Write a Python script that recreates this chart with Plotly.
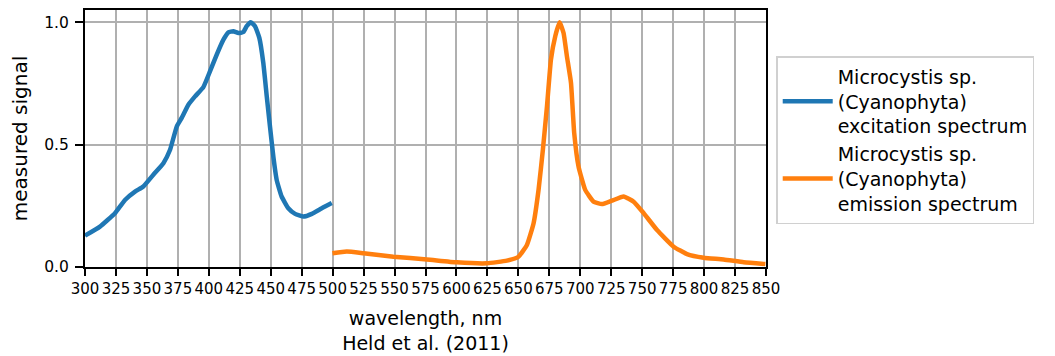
import plotly.graph_objects as go

# Excitation spectrum (nm, normalized signal)
exc_wl = [300, 312.1, 324.2, 332.3, 340.4, 347.1, 355.2, 363.3, 368.7, 374.1, 378.1,
          383.5, 388.9, 395.6, 401, 406.4, 411.8, 415.8, 419.8, 423.9, 427.9, 430.6,
          433.8, 437.3, 440.8, 444, 446.8, 449.4, 452.1, 454.8, 458.8, 464.2, 469.7,
          476.4, 483.2, 491.3, 499.3]
exc_val = [0.128, 0.165, 0.22, 0.274, 0.308, 0.329, 0.377, 0.424, 0.479, 0.574, 0.609,
           0.663, 0.697, 0.735, 0.80, 0.868, 0.929, 0.959, 0.963, 0.956, 0.96, 0.984,
           1.0, 0.984, 0.936, 0.834, 0.697, 0.574, 0.451, 0.356, 0.288, 0.24, 0.217,
           0.206, 0.217, 0.24, 0.261]

# Emission spectrum
emi_wl = [499.8, 511.4, 524.9, 549.1, 576.1, 600.3, 624.6, 640.7, 650.1, 656.9, 662.3,
          666.3, 669.8, 673.1, 676.3, 679.8, 683.3, 686.5, 689.2, 692.5, 695.1, 698.6,
          704, 710.7, 717.5, 725.6, 735, 743.1, 751.2, 762, 775.4, 786.2, 799.6, 815.8,
          832, 849.5]
emi_val = [0.056, 0.063, 0.056, 0.042, 0.031, 0.019, 0.015, 0.026, 0.042, 0.09, 0.179,
           0.315, 0.479, 0.656, 0.847, 0.943, 1.0, 0.956, 0.861, 0.752, 0.547, 0.41,
           0.315, 0.267, 0.257, 0.271, 0.288, 0.267, 0.22, 0.151, 0.083, 0.053, 0.038,
           0.031, 0.019, 0.012]

x_ticks = list(range(300, 851, 25))
y_ticks = [0.0, 0.5, 1.0]
y_tick_labels = ["0.0", "0.5", "1.0"]

exc_name = "Microcystis sp.<br>(Cyanophyta)<br>excitation spectrum"
emi_name = "Microcystis sp.<br>(Cyanophyta)<br>emission spectrum"

FONT = "DejaVu Sans"

fig = go.Figure()
fig.add_trace(go.Scatter(x=exc_wl, y=exc_val, mode="lines", name=exc_name,
                         line=dict(color="#1f77b4", width=4.5, shape="spline", smoothing=0.4)))
fig.add_trace(go.Scatter(x=emi_wl, y=emi_val, mode="lines", name=emi_name,
                         line=dict(color="#ff7f0e", width=4.5, shape="spline", smoothing=0.4)))

fig.update_layout(
    width=1047, height=348,
    margin=dict(l=77, r=289, t=2, b=89),
    paper_bgcolor="white", plot_bgcolor="white",
    font=dict(family=FONT, color="black"),
    showlegend=True,
    legend=dict(x=1.015, y=0.82, xanchor="left", yanchor="top",
                bgcolor="white", bordercolor="#d0d0d0", borderwidth=1.5,
                font=dict(family=FONT, size=19, color="black"),
                itemwidth=50, tracegroupgap=2),
)
fig.update_xaxes(
    range=[300, 850], tickmode="array", tickvals=x_ticks,
    ticktext=[str(t) for t in x_ticks],
    showgrid=True, gridcolor="#b0b0b0", gridwidth=1.5,
    showline=True, linecolor="black", linewidth=2, mirror=True,
    ticks="outside", ticklen=7, tickwidth=1.5, tickcolor="black",
    tickfont=dict(family=FONT, size=15),
    zeroline=False, automargin=False,
    title=dict(text="wavelength, nm<br>Held et al. (2011)",
               font=dict(family=FONT, size=19)),
)
fig.update_yaxes(
    range=[0, 1.05], tickmode="array", tickvals=y_ticks, ticktext=y_tick_labels,
    showgrid=True, gridcolor="#b0b0b0", gridwidth=1.5,
    showline=True, linecolor="black", linewidth=2, mirror=True,
    ticks="outside", ticklen=8, tickwidth=1.5, tickcolor="black",
    tickfont=dict(family=FONT, size=15.5), ticklabelstandoff=3,
    zeroline=False, automargin=False,
    title=dict(text="measured signal", font=dict(family=FONT, size=20)),
)

fig.write_html("out.html")
